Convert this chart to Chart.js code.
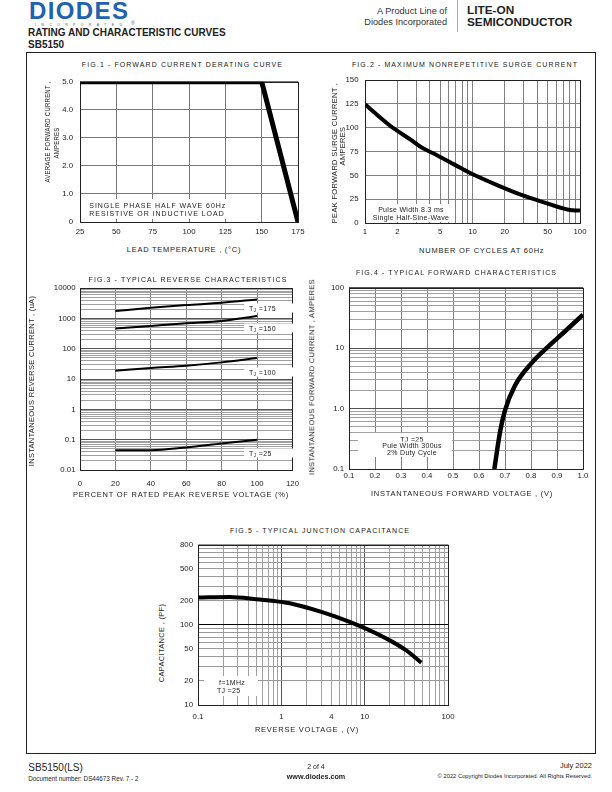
<!DOCTYPE html>
<html>
<head>
<meta charset="utf-8">
<script src="https://cdn.jsdelivr.net/npm/chart.js@4.4.0/dist/chart.umd.min.js"></script>
<style>
  body { margin: 0; background: #fff; }
  #page { position: relative; width: 612px; height: 792px; overflow: hidden; background: #fff;
          font-family: "Liberation Sans", Arial, sans-serif; color: #222; }
  #page div { position: absolute; white-space: nowrap; line-height: 1; }
  canvas { position: absolute; }
  .c  { transform: translate(-50%, -50%); }
  .l  { transform: translate(0, -50%); }
  .rr { transform: translate(-100%, -50%); }
  .v  { transform: translate(-50%, -50%) rotate(-90deg); }
  .vn { transform: translate(-50%, -50%) rotate(-90deg) scaleX(0.8); }
  .ttl { font-size: 7px; letter-spacing: 1.1px; }
  .axt { font-size: 7.5px; letter-spacing: 0.75px; }
  .ayt { font-size: 7.5px; letter-spacing: 0.3px; }
  .note { background: #fff; font-size: 7px; filter: grayscale(100%); }
  .tj { background: #fff; font-size: 7px; letter-spacing: 0.4px; padding-left: 5px; height: 9px; line-height: 9px !important; filter: grayscale(100%); }
  .tj sub { font-size: 4.5px; vertical-align: -1px; }
  #frame { left: 26px; top: 52px; width: 570px; height: 702px; border: 1px solid #222; box-sizing: border-box; }
</style>
</head>
<body>
<div id="page">
  <!-- header -->
  <div class="l" style="left:29px;top:11px;font-size:24px;font-weight:bold;letter-spacing:1.4px;color:#1f63b0;">DIODES</div>
  <div class="l" style="left:35px;top:25.5px;font-size:3.6px;letter-spacing:5.3px;color:#555;">INCORPORATED</div>
  <div class="l" style="left:131px;top:23px;font-size:5px;color:#1f63b0;">®</div>
  <div class="l" style="left:28px;top:33px;font-size:10px;font-weight:bold;">RATING AND CHARACTERISTIC CURVES</div>
  <div class="l" style="left:28px;top:44.5px;font-size:10px;font-weight:bold;">SB5150</div>
  <div class="rr" style="left:447px;top:12.3px;font-size:9.2px;color:#333;">A Product Line of</div>
  <div class="rr" style="left:447px;top:22.7px;font-size:9.2px;color:#333;">Diodes Incorporated</div>
  <div style="left:457px;top:0;width:1px;height:32px;background:#aaa;"></div>
  <div class="l" style="left:467px;top:11px;font-size:11.8px;font-weight:bold;">LITE-ON</div>
  <div class="l" style="left:467px;top:23px;font-size:11.8px;font-weight:bold;">SEMICONDUCTOR</div>

  <div id="frame"></div>

  <canvas id="fig1" width="272" height="174" style="left:40px;top:70px;"></canvas>
  <canvas id="fig2" width="269" height="176" style="left:325px;top:69px;"></canvas>
  <canvas id="fig3" width="272" height="213" style="left:36px;top:279px;"></canvas>
  <canvas id="fig4" width="278" height="213" style="left:319px;top:278px;"></canvas>
  <canvas id="fig5" width="294" height="192" style="left:168px;top:535px;"></canvas>

  <!-- fig 1 texts -->
  <div class="c ttl" style="left:182.5px;top:64px;">FIG.1 - FORWARD CURRENT DERATING CURVE</div>
  <div class="c axt" style="left:184px;top:250px;">LEAD TEMPERATURE , (°C)</div>
  <div class="vn ayt" style="left:48.3px;top:132px;">AVERAGE FORWARD CURRENT ,</div>
  <div class="vn ayt" style="left:56.7px;top:143px;">AMPERES</div>
  <div class="note" style="left:85px;top:199px;width:145px;height:20px;"></div>
  <div class="l note" style="left:89.3px;top:205px;letter-spacing:0.95px;">SINGLE PHASE HALF WAVE 60Hz</div>
  <div class="l note" style="left:89.3px;top:213.3px;letter-spacing:0.95px;">RESISTIVE OR INDUCTIVE LOAD</div>

  <!-- fig 2 texts -->
  <div class="c ttl" style="left:465px;top:64px;">FIG.2 - MAXIMUM NONREPETITIVE SURGE CURRENT</div>
  <div class="c axt" style="left:481.7px;top:251.3px;">NUMBER OF CYCLES AT 60Hz</div>
  <div class="v ayt" style="left:335px;top:152.5px;">PEAK FORWARD SURGE CURRENT ,</div>
  <div class="v ayt" style="left:343.3px;top:146px;">AMPERES</div>
  <div class="note" style="left:367px;top:204px;width:88px;height:18px;"></div>
  <div class="c note" style="left:411px;top:208.5px;letter-spacing:0.3px;">Pulse Width 8.3 ms</div>
  <div class="c note" style="left:411px;top:216.7px;letter-spacing:0.3px;">Single Half-Sine-Wave</div>

  <!-- fig 3 texts -->
  <div class="c ttl" style="left:188px;top:279px;">FIG.3 - TYPICAL REVERSE CHARACTERISTICS</div>
  <div class="c axt" style="left:181px;top:495px;">PERCENT OF RATED PEAK REVERSE VOLTAGE (%)</div>
  <div class="v ayt" style="left:32px;top:381px;">INSTANTANEOUS REVERSE CURRENT , (uA)</div>
  <div class="l tj" style="left:244px;top:308.3px;width:44px;">T<sub>J</sub> =175</div>
  <div class="l tj" style="left:244px;top:327.7px;width:44px;">T<sub>J</sub> =150</div>
  <div class="l tj" style="left:244px;top:371.7px;width:44px;">T<sub>J</sub> =100</div>
  <div class="l tj" style="left:244px;top:452.7px;width:44px;">T<sub>J</sub> =25</div>

  <!-- fig 4 texts -->
  <div class="c ttl" style="left:456.5px;top:272px;">FIG.4 - TYPICAL FORWARD CHARACTERISTICS</div>
  <div class="c axt" style="left:462px;top:494.3px;">INSTANTANEOUS FORWARD VOLTAGE , (V)</div>
  <div class="v ayt" style="left:311.7px;top:376.5px;">INSTANTANEOUS FORWARD CURRENT , AMPERES</div>
  <div class="note" style="left:358px;top:433px;width:94px;height:24px;"></div>
  <div class="c note" style="left:412px;top:438.7px;letter-spacing:0.3px;">TJ =25</div>
  <div class="c note" style="left:412px;top:445.3px;letter-spacing:0.3px;">Pule Width 300us</div>
  <div class="c note" style="left:412px;top:452px;letter-spacing:0.3px;">2% Duty Cycle</div>

  <!-- fig 5 texts -->
  <div class="c ttl" style="left:320px;top:530px;">FIG.5 - TYPICAL JUNCTION CAPACITANCE</div>
  <div class="c axt" style="left:307px;top:730px;">REVERSE VOLTAGE , (V)</div>
  <div class="v ayt" style="left:161.7px;top:643px;">CAPACITANCE , (PF)</div>
  <div class="note" style="left:204px;top:676px;width:54px;height:20px;"></div>
  <div class="l note" style="left:219px;top:681.5px;letter-spacing:0.3px;">f=1MHz</div>
  <div class="l note" style="left:217px;top:690px;letter-spacing:0.3px;">TJ =25</div>

  <!-- footer -->
  <div class="l" style="left:28.3px;top:767.5px;font-size:10px;">SB5150(LS)</div>
  <div class="l" style="left:28.3px;top:778.5px;font-size:6.3px;">Document number: DS44673 Rev. 7 - 2</div>
  <div class="c" style="left:316px;top:765.5px;font-size:7px;">2 of 4</div>
  <div class="c" style="left:316px;top:776.6px;font-size:7.2px;font-weight:bold;">www.diodes.com</div>
  <div class="rr" style="left:592px;top:765.5px;font-size:7.5px;">July 2022</div>
  <div class="rr" style="left:592px;top:777.3px;font-size:5.8px;">© 2022 Copyright Diodes Incorporated. All Rights Reserved.</div>
</div>

<script>
// ---------- Fig.1 forward current derating curve ----------
const fig1Temp = [25, 150, 175];
const fig1Current = [5, 5, 0];
const fig1XTicks = [25, 50, 75, 100, 125, 150, 175];
const fig1XLabels = ['25', '50', '75', '100', '125', '150', '175'];
const fig1YTicks = [0, 1, 2, 3, 4, 5];
const fig1YLabels = ['0', '1.0', '2.0', '3.0', '4.0', '5.0'];

// ---------- Fig.2 maximum nonrepetitive surge current ----------
const fig2Cycles = [1, 1.7, 2.7, 3.4, 4.3, 6.8, 9.4, 17.6, 28.5, 45.5, 78, 100];
const fig2Current = [124.6, 102.4, 87, 79, 73.3, 61.3, 52.7, 39, 29.5, 21.9, 14, 13];
const fig2XTicks = [1, 2, 5, 10, 20, 50, 100];
const fig2XLabels = ['1', '2', '5', '10', '20', '50', '100'];
const fig2YTicks = [0, 25, 50, 75, 100, 125, 150];
const fig2YLabels = ['0', '25', '50', '75', '100', '125', '150'];

// ---------- Fig.3 typical reverse characteristics ----------
const fig3Percent = [20, 40, 60, 80, 100];
const fig3Tj175 = [1760, 2260, 2770, 3300, 4260];
const fig3Tj150 = [463, 568, 697, 828, 1210];
const fig3Tj100 = [19, 23.3, 27.7, 35.6, 49.5];
const fig3Tj25 = [0.045, 0.045, 0.0555, 0.075, 0.10];
const fig3XTicks = [0, 20, 40, 60, 80, 100, 120];
const fig3XLabels = ['0', '20', '40', '60', '80', '100', '120'];
const fig3YTicks = [0.01, 0.1, 1, 10, 100, 1000, 10000];
const fig3YLabels = ['0.01', '0.1', '1', '10', '100', '1000', '10000'];

// ---------- Fig.4 typical forward characteristics ----------
const fig4Voltage = [0.659, 0.681, 0.70, 0.738, 0.803, 0.867, 0.931, 1.0];
const fig4Current = [0.1, 0.41, 0.93, 2.38, 5.7, 10.7, 19, 35.7];
const fig4XTicks = [0.1, 0.2, 0.3, 0.4, 0.5, 0.6, 0.7, 0.8, 0.9, 1.0];
const fig4XLabels = ['0.1', '0.2', '0.3', '0.4', '0.5', '0.6', '0.7', '0.8', '0.9', '1.0'];
const fig4YTicks = [0.1, 1, 10, 100];
const fig4YLabels = ['0.1', '1.0', '10', '100'];

// ---------- Fig.5 typical junction capacitance ----------
const fig5Voltage = [0.1, 0.24, 0.5, 1.26, 3.16, 6.6, 10.5, 20, 31.6, 47.9];
const fig5Capacitance = [219, 223, 209, 186, 143, 109, 89, 64, 47.9, 33.7];
const fig5XTicks = [0.1, 1, 4, 10, 100];
const fig5XLabels = ['0.1', '1', '4', '10', '100'];
const fig5YTicks = [10, 20, 50, 100, 200, 500, 1000];
const fig5YLabels = ['10', '20', '50', '100', '200', '500', '800'];

const tickFont = { family: '"Liberation Sans", Arial, sans-serif', size: 7.8 };

// minor grid lines of a log axis: 1..9 in every decade
function logGrid(min, max) {
  const out = [];
  for (let d = min; d < max * 0.999; d *= 10) {
    for (let k = 1; k < 10; k++) out.push(+(k * d).toPrecision(6));
  }
  out.push(max);
  return out;
}

function labelFor(values, labels, v) {
  const i = values.findIndex(t => Math.abs(t / v - 1) < 1e-6 || t === v);
  return i < 0 ? '' : labels[i];
}

function isDecade(v) {
  const l = Math.log10(v);
  return Math.abs(l - Math.round(l)) < 1e-6;
}

function axis(cfg) {
  return {
    type: cfg.type || 'linear',
    min: cfg.min,
    max: cfg.max,
    afterBuildTicks: s => { s.ticks = cfg.grid.map(v => ({ value: v })); },
    afterFit: s => { if (cfg.vertical) s.width = cfg.size; else s.height = cfg.size; },
    grid: { color: cfg.gridColor || '#808080', lineWidth: 1, drawTicks: false },
    border: { display: false },
    ticks: {
      autoSkip: false, maxRotation: 0, minRotation: 0,
      padding: cfg.pad, color: '#222', font: tickFont,
      callback: v => labelFor(cfg.values, cfg.labels, v)
    }
  };
}

function curve(xs, ys, width, smooth) {
  return {
    data: xs.map((x, i) => ({ x: x, y: ys[i] })),
    borderColor: '#000',
    borderWidth: width,
    pointRadius: 0,
    fill: false,
    tension: smooth ? 0.4 : 0,
    cubicInterpolationMode: smooth ? 'monotone' : 'default',
    borderJoinStyle: 'round'
  };
}

// plot frame round the chart area, under the curves
const framePlugin = {
  id: 'frame',
  beforeDatasetsDraw(chart) {
    const { ctx, chartArea: a } = chart;
    ctx.save();
    ctx.strokeStyle = '#222';
    ctx.lineWidth = 1;
    ctx.strokeRect(Math.round(a.left) + 0.5, Math.round(a.top) + 0.5,
      Math.round(a.right - a.left), Math.round(a.bottom - a.top));
    ctx.restore();
  }
};

function makeChart(id, datasets, x, y) {
  return new Chart(document.getElementById(id), {
    type: 'line',
    data: { datasets: datasets },
    options: {
      responsive: false,
      animation: false,
      events: [],
      layout: { padding: { left: 0, top: 8, right: 14, bottom: 0 } },
      plugins: { legend: { display: false }, tooltip: { enabled: false } },
      scales: { x: x, y: y }
    },
    plugins: [framePlugin]
  });
}

const logColor = c => (isDecade(c.tick.value) ? '#555' : '#a0a0a0');

makeChart('fig1',
  [curve(fig1Temp, fig1Current, 5, false)],
  axis({ min: 25, max: 175, grid: fig1XTicks, values: fig1XTicks, labels: fig1XLabels, size: 22, pad: 5, gridColor: '#777' }),
  axis({ min: 0, max: 5, grid: fig1YTicks, values: fig1YTicks, labels: fig1YLabels, size: 40, pad: 7, vertical: true, gridColor: '#777' })
);

makeChart('fig2',
  [curve(fig2Cycles, fig2Current, 4, true)],
  axis({ type: 'logarithmic', min: 1, max: 100, grid: logGrid(1, 100), values: fig2XTicks, labels: fig2XLabels, size: 22, pad: 4, gridColor: '#808080' }),
  axis({ min: 0, max: 150, grid: fig2YTicks, values: fig2YTicks, labels: fig2YLabels, size: 40, pad: 6.5, vertical: true, gridColor: '#808080' })
);

makeChart('fig3',
  [curve(fig3Percent, fig3Tj175, 2, true), curve(fig3Percent, fig3Tj150, 2, true),
   curve(fig3Percent, fig3Tj100, 2, true), curve(fig3Percent, fig3Tj25, 2, true)],
  axis({ min: 0, max: 120, grid: fig3XTicks, values: fig3XTicks, labels: fig3XLabels, size: 22, pad: 9, gridColor: '#808080' }),
  axis({ type: 'logarithmic', min: 0.01, max: 10000, grid: logGrid(0.01, 10000), values: fig3YTicks, labels: fig3YLabels, size: 44, pad: 4.5, vertical: true, gridColor: logColor })
);

makeChart('fig4',
  [curve(fig4Voltage, fig4Current, 4.5, true)],
  axis({ min: 0.1, max: 1.0, grid: fig4XTicks, values: fig4XTicks, labels: fig4XLabels, size: 22, pad: 2, gridColor: '#808080' }),
  axis({ type: 'logarithmic', min: 0.1, max: 100, grid: logGrid(0.1, 100), values: fig4YTicks, labels: fig4YLabels, size: 30, pad: 5, vertical: true, gridColor: logColor })
);

makeChart('fig5',
  [curve(fig5Voltage, fig5Capacitance, 4, true)],
  axis({ type: 'logarithmic', min: 0.1, max: 100, grid: logGrid(0.1, 100), values: fig5XTicks, labels: fig5XLabels, size: 22, pad: 7, gridColor: logColor }),
  axis({ type: 'logarithmic', min: 10, max: 1000, grid: logGrid(10, 1000), values: fig5YTicks, labels: fig5YLabels, size: 30, pad: 5, vertical: true,
         gridColor: c => (c.tick.value === 100 ? '#000' : '#999') })
);
</script>
</body>
</html>
